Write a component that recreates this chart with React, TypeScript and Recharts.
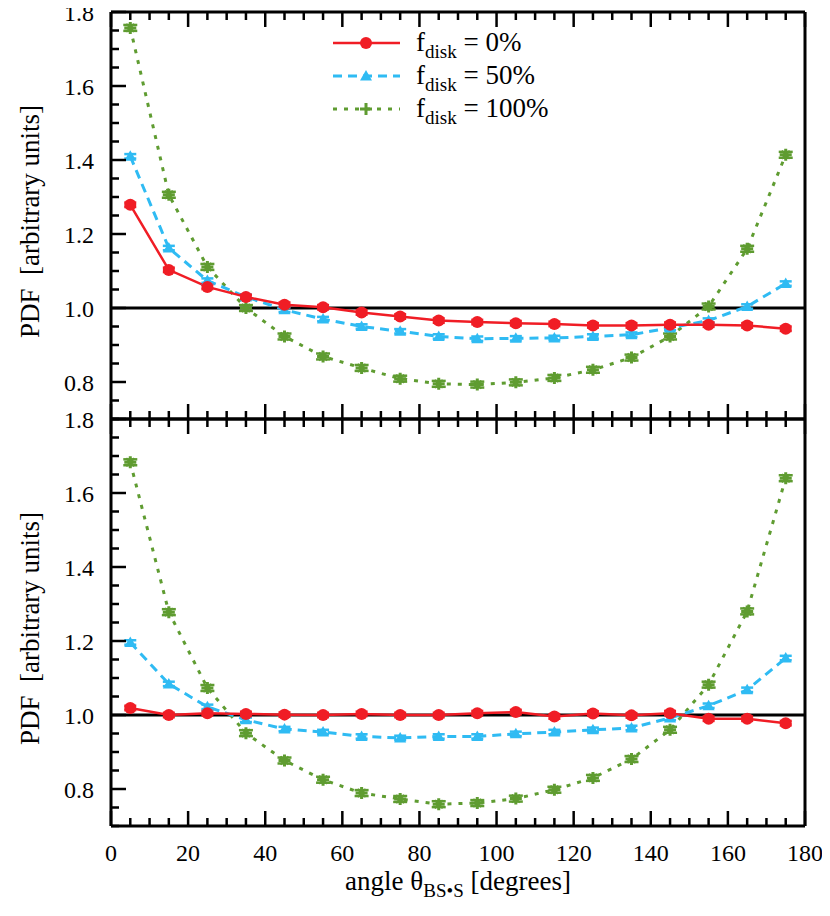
import {
  ErrorBar,
  Label,
  Legend,
  Line,
  LineChart,
  ReferenceLine,
  XAxis,
  YAxis,
} from 'recharts'

// angles of the bin centres, degrees
const angles = [5, 15, 25, 35, 45, 55, 65, 75, 85, 95, 105, 115, 125, 135, 145, 155, 165, 175]

// upper panel
const topDisk0 = [1.279, 1.103, 1.057, 1.03, 1.009, 1.002, 0.988, 0.977, 0.966, 0.962, 0.959, 0.957, 0.953, 0.953, 0.955, 0.955, 0.953, 0.944]
const topDisk50 = [1.41, 1.162, 1.074, 1.03, 0.995, 0.97, 0.95, 0.937, 0.923, 0.917, 0.918, 0.919, 0.923, 0.928, 0.946, 0.966, 1.004, 1.066]
const topDisk100 = [1.757, 1.306, 1.111, 1.0, 0.923, 0.869, 0.838, 0.809, 0.795, 0.793, 0.799, 0.811, 0.833, 0.866, 0.923, 1.004, 1.16, 1.414]

// lower panel
const botDisk0 = [1.019, 1.0, 1.005, 1.003, 1.001, 1.0, 1.003, 1.0, 1.0, 1.005, 1.008, 0.996, 1.004, 0.999, 1.005, 0.99, 0.99, 0.978]
const botDisk50 = [1.196, 1.084, 1.022, 0.987, 0.962, 0.954, 0.942, 0.938, 0.942, 0.942, 0.949, 0.954, 0.96, 0.965, 0.992, 1.025, 1.068, 1.154]
const botDisk100 = [1.683, 1.278, 1.073, 0.951, 0.877, 0.825, 0.789, 0.773, 0.759, 0.762, 0.774, 0.798, 0.83, 0.881, 0.96, 1.082, 1.28, 1.64]

// half height of the error bars (same for every point)
const errDisk0 = 0.006
const errDisk50 = 0.006
const errDisk100 = 0.008

const xTicks = [0, 5, 10, 15, 20, 25, 30, 35, 40, 45, 50, 55, 60, 65, 70, 75, 80, 85, 90, 95, 100, 105, 110, 115, 120, 125, 130, 135, 140, 145, 150, 155, 160, 165, 170, 175, 180]
const xMajor = [0, 20, 40, 60, 80, 100, 120, 140, 160, 180]
const yTicks = [0.7, 0.75, 0.8, 0.85, 0.9, 0.95, 1.0, 1.05, 1.1, 1.15, 1.2, 1.25, 1.3, 1.35, 1.4, 1.45, 1.5, 1.55, 1.6, 1.65, 1.7, 1.75, 1.8]
const yMajor = [0.8, 1.0, 1.2, 1.4, 1.6, 1.8]

const seriesNames = ['0%', '50%', '100%']

const RED = '#f01d25'
const BLUE = '#2fbbf3'
const GREEN = '#5f9c31'
const FONT = '"Liberation Serif", "Times New Roman", serif'

const PLOT_H = 407
const TOP_PAD = 16
const MAJOR_LEN = 15
const MINOR_LEN = 8
const TICK_FONT = 24
const TITLE_FONT = 27
const SUB_FONT = 19

type Row = { angle: number; d0: number; d50: number; d100: number; e0: number; e50: number; e100: number }

function buildRows(d0: number[], d50: number[], d100: number[]): Row[] {
  return angles.map((angle, i) => ({
    angle,
    d0: d0[i],
    d50: d50[i],
    d100: d100[i],
    e0: errDisk0,
    e50: errDisk50,
    e100: errDisk100,
  }))
}

const topRows = buildRows(topDisk0, topDisk50, topDisk100)
const botRows = buildRows(botDisk0, botDisk50, botDisk100)

const isMajor = (list: number[], v: number) => list.some((m) => Math.abs(m - v) < 1e-6)

function LeftTick(props: any) {
  const { x, y, payload } = props
  const major = isMajor(yMajor, payload.value)
  return (
    <g>
      <line x1={x} x2={x + (major ? MAJOR_LEN : MINOR_LEN)} y1={y} y2={y} stroke="#000" strokeWidth={2.5} />
      {major && (
        <text x={x - 17} y={y} dy="0.36em" textAnchor="end" fontSize={TICK_FONT} fontFamily={FONT} fill="#000">
          {payload.value.toFixed(1)}
        </text>
      )}
    </g>
  )
}

function RightTick(props: any) {
  const { x, y, payload } = props
  const major = isMajor(yMajor, payload.value)
  return <line x1={x} x2={x - (major ? MAJOR_LEN : MINOR_LEN)} y1={y} y2={y} stroke="#000" strokeWidth={2.5} />
}

function TopTick(props: any) {
  const { x, y, payload } = props
  const major = isMajor(xMajor, payload.value)
  return <line x1={x} x2={x} y1={y} y2={y + (major ? MAJOR_LEN : MINOR_LEN)} stroke="#000" strokeWidth={2.5} />
}

function makeBottomTick(showLabel: boolean) {
  return (props: any) => {
    const { x, y, payload } = props
    const major = isMajor(xMajor, payload.value)
    return (
      <g>
        <line x1={x} x2={x} y1={y} y2={y - (major ? MAJOR_LEN : MINOR_LEN)} stroke="#000" strokeWidth={2.5} />
        {showLabel && major && (
          <text x={x} y={y + 35} textAnchor="middle" fontSize={TICK_FONT} fontFamily={FONT} fill="#000">
            {payload.value}
          </text>
        )}
      </g>
    )
  }
}

function circleDot(props: any) {
  const { cx, cy, index } = props
  if (typeof cx !== 'number' || typeof cy !== 'number') return <g key={`c${index}`} />
  return <circle key={`c${index}`} cx={cx} cy={cy} r={6} fill={RED} />
}

function triangleDot(props: any) {
  const { cx, cy, index } = props
  if (typeof cx !== 'number' || typeof cy !== 'number') return <g key={`t${index}`} />
  return <path key={`t${index}`} d={`M${cx},${cy - 6} L${cx + 6},${cy + 4.5} L${cx - 6},${cy + 4.5} Z`} fill={BLUE} />
}

function plusDot(props: any) {
  const { cx, cy, index } = props
  if (typeof cx !== 'number' || typeof cy !== 'number') return <g key={`p${index}`} />
  return (
    <g key={`p${index}`}>
      <path d={`M${cx - 6},${cy} H${cx + 6} M${cx},${cy - 6} V${cy + 6}`} stroke={GREEN} strokeWidth={3} />
      <path d={`M${cx - 4},${cy - 4} L${cx + 4},${cy + 4} M${cx + 4},${cy - 4} L${cx - 4},${cy + 4}`} stroke={GREEN} strokeWidth={2} />
    </g>
  )
}

function YTitle(props: any) {
  const vb = props.viewBox || {}
  const cy = vb.y + vb.height / 2 + 6
  const cx = 31
  return (
    <text
      x={cx}
      y={cy}
      transform={`rotate(-90 ${cx} ${cy})`}
      textAnchor="middle"
      fontSize={TITLE_FONT}
      fontFamily={FONT}
      fill="#000"
      style={{ whiteSpace: 'pre' }}
    >
      {'PDF  [arbitrary units]'}
    </text>
  )
}

function XTitle(props: any) {
  const vb = props.viewBox || {}
  const cx = vb.x + vb.width / 2
  return (
    <text x={cx} y={vb.y + 64} textAnchor="middle" fontSize={TITLE_FONT} fontFamily={FONT} fill="#000">
      angle θ
      <tspan fontSize={SUB_FONT} dy={7}>BS•S</tspan>
      <tspan dy={-7}> [degrees]</tspan>
    </text>
  )
}

function LegendBox() {
  const rows = [
    { color: RED, dash: undefined, width: 2.5, marker: 'circle' },
    { color: BLUE, dash: '9 6', width: 3, marker: 'triangle' },
    { color: GREEN, dash: '4 7', width: 3, marker: 'plus' },
  ]
  return (
    <svg width={300} height={120} style={{ overflow: 'visible' }}>
      {rows.map((r, i) => {
        const y = 18 + i * 33
        const mx = 50
        return (
          <g key={i}>
            <line x1={17} x2={84} y1={y} y2={y} stroke={r.color} strokeWidth={r.width} strokeDasharray={r.dash} />
            {r.marker === 'circle' && <circle cx={mx} cy={y} r={6} fill={r.color} />}
            {r.marker === 'triangle' && <path d={`M${mx},${y - 6} L${mx + 6},${y + 4.5} L${mx - 6},${y + 4.5} Z`} fill={r.color} />}
            {r.marker === 'plus' && (
              <path d={`M${mx - 6},${y} H${mx + 6} M${mx},${y - 6} V${y + 6}`} stroke={r.color} strokeWidth={3} />
            )}
            <text x={100} y={y + 8} fontSize={TITLE_FONT} fontFamily={FONT} fill="#000">
              f
              <tspan fontSize={SUB_FONT} dy={7}>disk</tspan>
              <tspan dy={-7}> = {seriesNames[i]}</tspan>
            </text>
          </g>
        )
      })}
    </svg>
  )
}

type PanelProps = { rows: Row[]; bottom: boolean }

function Panel({ rows, bottom }: PanelProps) {
  const bottomH = bottom ? 80 : 4
  const axisLine = { stroke: '#000', strokeWidth: 3 }
  return (
    <LineChart
      width={822}
      height={TOP_PAD + 4 + PLOT_H + bottomH}
      data={rows}
      margin={{ top: TOP_PAD, right: 5, bottom: 0, left: 0 }}
      style={{ overflow: 'visible' }}
    >
      <XAxis
        xAxisId="bottom"
        dataKey="angle"
        type="number"
        domain={[0, 180]}
        ticks={xTicks}
        interval={0}
        height={bottomH}
        axisLine={axisLine}
        tickLine={false}
        tickSize={0}
        tickMargin={0}
        tick={makeBottomTick(bottom)}
      >
        {bottom && <Label content={XTitle} />}
      </XAxis>
      <XAxis
        xAxisId="top"
        orientation="top"
        dataKey="angle"
        type="number"
        domain={[0, 180]}
        ticks={xTicks}
        interval={0}
        height={4}
        axisLine={axisLine}
        tickLine={false}
        tickSize={0}
        tickMargin={0}
        tick={TopTick}
      />
      <YAxis
        yAxisId="left"
        type="number"
        domain={[0.7, 1.8]}
        ticks={yTicks}
        interval={0}
        width={103}
        axisLine={axisLine}
        tickLine={false}
        tickSize={0}
        tickMargin={0}
        tick={LeftTick}
      >
        <Label content={YTitle} />
      </YAxis>
      <YAxis
        yAxisId="right"
        orientation="right"
        type="number"
        domain={[0.7, 1.8]}
        ticks={yTicks}
        interval={0}
        width={20}
        axisLine={axisLine}
        tickLine={false}
        tickSize={0}
        tickMargin={0}
        tick={RightTick}
      />
      <ReferenceLine xAxisId="bottom" yAxisId="left" y={1} stroke="#000" strokeWidth={3} />
      <Line
        xAxisId="bottom"
        yAxisId="left"
        dataKey="d100"
        stroke={GREEN}
        strokeWidth={3}
        strokeDasharray="4 7"
        dot={plusDot}
        activeDot={false}
        isAnimationActive={false}
      >
        <ErrorBar dataKey="e100" direction="y" width={7} stroke={GREEN} strokeWidth={2.5} />
      </Line>
      <Line
        xAxisId="bottom"
        yAxisId="left"
        dataKey="d50"
        stroke={BLUE}
        strokeWidth={3}
        strokeDasharray="9 6"
        dot={triangleDot}
        activeDot={false}
        isAnimationActive={false}
      >
        <ErrorBar dataKey="e50" direction="y" width={6} stroke={BLUE} strokeWidth={2.5} />
      </Line>
      <Line
        xAxisId="bottom"
        yAxisId="left"
        dataKey="d0"
        stroke={RED}
        strokeWidth={2.5}
        dot={circleDot}
        activeDot={false}
        isAnimationActive={false}
      >
        <ErrorBar dataKey="e0" direction="y" width={6} stroke={RED} strokeWidth={2.5} />
      </Line>
      {!bottom && (
        <Legend
          layout="vertical"
          verticalAlign="middle"
          align="center"
          content={LegendBox}
          wrapperStyle={{ position: 'absolute', left: 308, top: 17 + TOP_PAD, width: 300, height: 120 }}
        />
      )}
    </LineChart>
  )
}

export default function App() {
  return (
    <div style={{ position: 'relative', width: 822, height: 900 }}>
      <div style={{ position: 'absolute', left: 0, top: -TOP_PAD }}>
        <Panel rows={topRows} bottom={false} />
      </div>
      <div style={{ position: 'absolute', left: 0, top: PLOT_H - TOP_PAD }}>
        <Panel rows={botRows} bottom />
      </div>
    </div>
  )
}
